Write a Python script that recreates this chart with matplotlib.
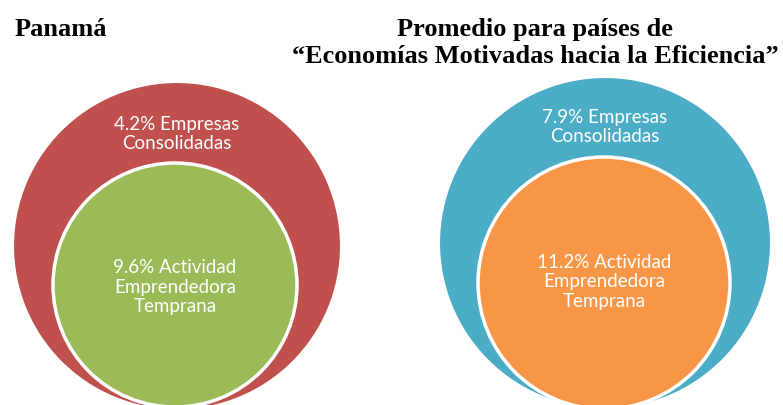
import matplotlib.pyplot as plt
from matplotlib.patches import Circle

# Data
panel_titles = ['Panamá',
                'Promedio para países de\n\u201cEconomías Motivadas hacia la Eficiencia\u201d']
outer_pct = [4.2, 7.9]
inner_pct = [9.6, 11.2]
outer_label = 'Empresas\nConsolidadas'
inner_label = 'Actividad\nEmprendedora\nTemprana'

outer_colors = ['#C0504D', '#4BACC6']
inner_colors = ['#9BBB59', '#F79646']

# layout in pixel coords (x, y_center, radius)
outer_geom = [(177, 246, 164), (605, 243, 166)]
inner_geom = [(175, 285, 122), (604, 283, 126)]
outer_text_y = [134, 127]
inner_text_y = [287, 282]

fig = plt.figure(figsize=(7.83, 4.05), dpi=100)
ax = fig.add_axes([0, 0, 1, 1])
ax.set_xlim(0, 783)
ax.set_ylim(405, 0)
ax.set_aspect('equal')
ax.axis('off')

for i in range(2):
    ox, oy, orad = outer_geom[i]
    ix, iy, irad = inner_geom[i]
    ax.add_patch(Circle((ox, oy), orad, facecolor=outer_colors[i],
                        edgecolor='white', linewidth=1.5))
    ax.add_patch(Circle((ix, iy), irad, facecolor=inner_colors[i],
                        edgecolor='white', linewidth=2.5))

    # outer text
    lines = outer_label.split('\n')
    ax.text(ox, outer_text_y[i], f'{outer_pct[i]}% {lines[0]}\n{lines[1]}',
            ha='center', va='center', color='white', fontsize=13.5,
            family='Lato', linespacing=1.15)
    lines = inner_label.split('\n')
    ax.text(ix, inner_text_y[i], f'{inner_pct[i]}% {lines[0]}\n{lines[1]}\n{lines[2]}',
            ha='center', va='center', color='white', fontsize=13.5,
            family='Lato', linespacing=1.2)

fig.text(15 / 783, 1 - 29 / 405, panel_titles[0], ha='left', va='center',
         fontsize=19, fontweight='bold', family='Liberation Serif')
fig.text(535 / 783, 1 - 43 / 405, panel_titles[1], ha='center', va='center',
         fontsize=19, fontweight='bold', family='Liberation Serif',
         linespacing=1.2)

plt.savefig('out.png', dpi=100)
plt.close()
